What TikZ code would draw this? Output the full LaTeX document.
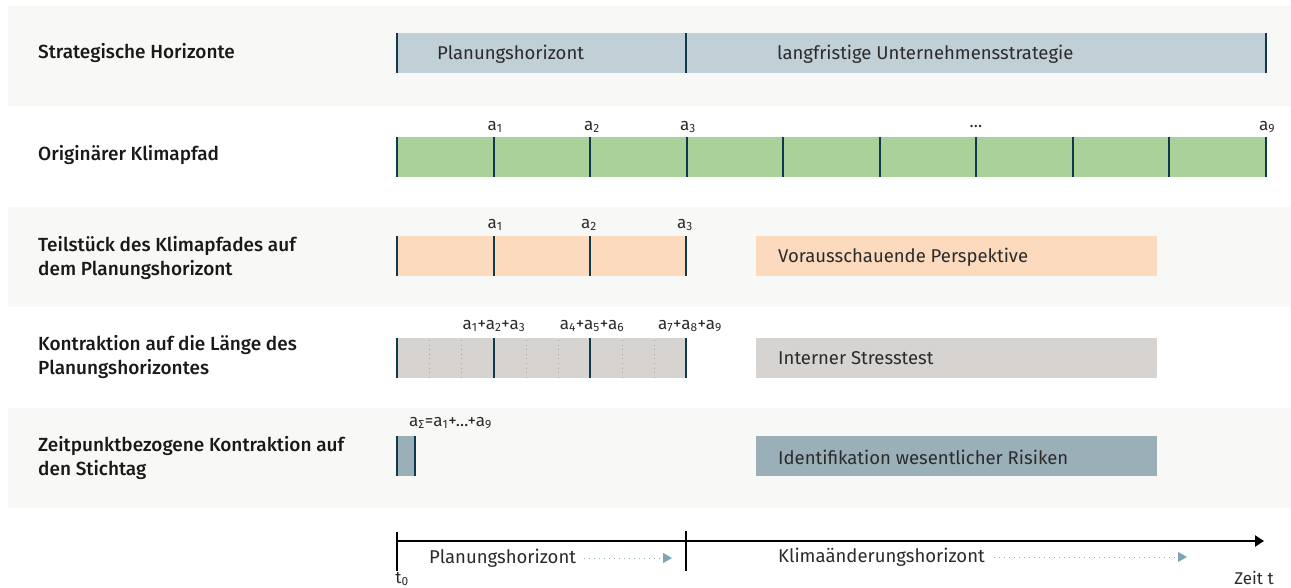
\documentclass[tikz,border=0pt]{standalone}
\usepackage{fontspec}
\setmainfont{Fira Sans}[BoldFont={Fira Sans Medium}]
\usetikzlibrary{arrows.meta}
\definecolor{band}{HTML}{F8F8F6}
\definecolor{tickc}{HTML}{0E3A4C}
\definecolor{blueb}{HTML}{C1CFD7}
\definecolor{greenb}{HTML}{ABD19B}
\definecolor{orangeb}{HTML}{FCDABE}
\definecolor{greyb}{HTML}{D7D3D0}
\definecolor{darkb}{HTML}{9AAFB7}
\definecolor{txt}{HTML}{2B2B2B}
\definecolor{dotc}{HTML}{8FB0BF}
\definecolor{arrc}{HTML}{7FA5B5}
\tikzset{
  rowlabel/.style={anchor=west,font=\bfseries\fontsize{19}{24}\selectfont,text=black!90,align=left,inner sep=0pt},
  boxtext/.style={anchor=west,font=\fontsize{18.5}{20}\selectfont,text=txt,inner sep=0pt},
  small/.style={font=\fontsize{17}{18}\selectfont,text=txt,inner sep=0pt},
  tickline/.style={draw=tickc,line width=2pt},
  dotline/.style={draw=gray!70,line width=0.8pt,dash pattern=on 1pt off 3.6pt},
  bandbox/.style={fill=band,draw=none},
  flowarrow/.style={draw=dotc,line width=1pt,dash pattern=on 1pt off 4pt,-{Triangle[length=9pt,width=10pt,fill=arrc,color=arrc]}},
}
\begin{document}
\begin{tikzpicture}[x=1pt,y=-1pt]
\useasboundingbox (0,0) rectangle (1291,588);
\fill[white] (0,0) rectangle (1291,588);
% bands
\fill[band] (8,6) rectangle (1291,106);
\fill[band] (8,207) rectangle (1291,307);
\fill[band] (8,408) rectangle (1291,508);

% row labels
\node[rowlabel] (l1) at (38,53) {Strategische Horizonte};
\node[rowlabel] (l2) at (38,155) {Originärer Klimapfad};
\node[rowlabel] (l3) at (38,258) {Teilstück des Klimapfades auf\\dem Planungshorizont};
\node[rowlabel] (l4) at (38,357) {Kontraktion auf die Länge des\\Planungshorizontes};
\node[rowlabel] (l5) at (38,458) {Zeitpunktbezogene Kontraktion auf\\den Stichtag};

% row 1
\fill[blueb] (397,33) rectangle (1266,73);
\foreach \x in {397,686,1266} \draw[tickline] (\x,33) -- (\x,73);
\node[boxtext] (r1a) at (437,54) {Planungshorizont};
\node[boxtext] (r1b) at (777,54) {langfristige Unternehmensstrategie};

% row 2
\fill[greenb] (397,137) rectangle (1266,177);
\foreach \x in {397,493.5,590,686.5,783,879.5,976,1072.5,1169,1266} \draw[tickline] (\x,137) -- (\x,177);
\node[small] (a21) at (495,127) {a\textsubscript{1}};
\node[small] (a22) at (592,127) {a\textsubscript{2}};
\node[small] (a23) at (688,127) {a\textsubscript{3}};
\node[small] (a2d) at (976,127) {…};
\node[small] (a29) at (1267,127) {a\textsubscript{9}};

% row 3
\fill[orangeb] (397,236) rectangle (686,276);
\foreach \x in {397,493.5,590,686} \draw[tickline] (\x,236) -- (\x,276);
\node[small] (a31) at (495,225) {a\textsubscript{1}};
\node[small] (a32) at (589,225) {a\textsubscript{2}};
\node[small] (a33) at (685,225) {a\textsubscript{3}};
\node[fill=orangeb,minimum width=401pt,minimum height=40pt,anchor=north west,inner sep=0pt] (vp) at (756,236) {};
\node[boxtext] (vpt) at (778,257) {Vorausschauende Perspektive};

% row 4
\fill[greyb] (397,338) rectangle (686,378);
\foreach \x in {429,461,526,558,622,654} \draw[dotline] (\x,340) -- (\x,378);
\foreach \x in {397,493.5,590,686} \draw[tickline] (\x,338) -- (\x,378);
\node[small] (s1) at (494,326) {a\textsubscript{1}+a\textsubscript{2}+a\textsubscript{3}};
\node[small] (s2) at (592,326) {a\textsubscript{4}+a\textsubscript{5}+a\textsubscript{6}};
\node[small] (s3) at (690,326) {a\textsubscript{7}+a\textsubscript{8}+a\textsubscript{9}};
\node[fill=greyb,minimum width=401pt,minimum height=40pt,anchor=north west,inner sep=0pt] (st) at (756,338) {};
\node[boxtext] (stt) at (778,358) {Interner Stresstest};

% row 5
\fill[darkb] (397,436) rectangle (415,476);
\foreach \x in {397,415} \draw[tickline] (\x,436) -- (\x,476);
\node[small,anchor=west] (asum) at (409,423) {a\textsubscript{∑}=a\textsubscript{1}+…+a\textsubscript{9}};
\node[fill=darkb,minimum width=401pt,minimum height=40pt,anchor=north west,inner sep=0pt] (ir) at (756,436) {};
\node[boxtext] (irt) at (778,457) {Identifikation wesentlicher Risiken};

% time axis
\coordinate (t0) at (397,541);
\coordinate (tend) at (1264,541);
\draw[line width=2.5pt,-{Triangle[length=9pt,width=11pt]}] (t0) -- (tend);
\draw[line width=2pt] (397,532) -- (397,571);
\draw[line width=2pt] (686,531) -- (686,571);
\node[small] (t0l) at (402,579) {t\textsubscript{0}};
\node[small] (zt) at (1254,578) {Zeit t};
\node[boxtext] (ph) at (429,558) {Planungshorizont};
\coordinate (ph2) at (672,558);
\draw[flowarrow] (ph.east) ++(8,0) -- (ph2);
\node[boxtext] (kh) at (778,557) {Klimaänderungshorizont};
\coordinate (kh2) at (1187,557);
\draw[flowarrow] (kh.east) ++(9,0) -- (kh2);
\end{tikzpicture}
\end{document}
